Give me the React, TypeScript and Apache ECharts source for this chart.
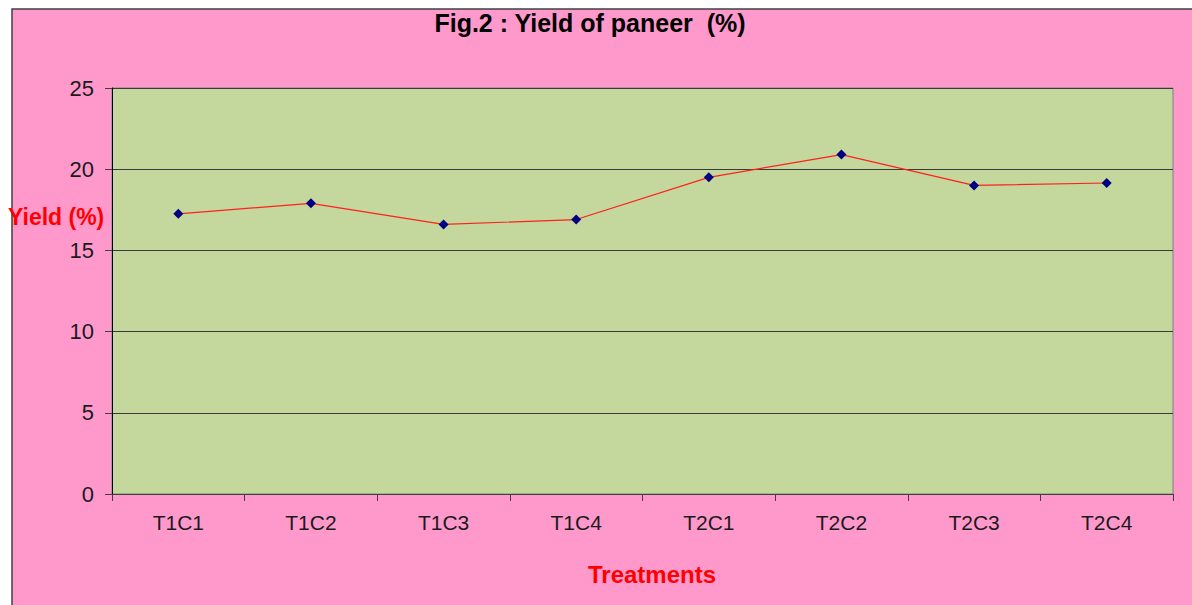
import React, { useEffect, useRef } from "react";
import * as echarts from "echarts";

const categories = ["T1C1", "T1C2", "T1C3", "T1C4", "T2C1", "T2C2", "T2C3", "T2C4"];
const yieldValues = [17.25, 17.9, 16.6, 16.9, 19.5, 20.9, 19.0, 19.15];
const yTicks = { min: 0, max: 25, interval: 5 };

const FONT = "'Liberation Sans', Arial, sans-serif";

export default function App() {
  const ref = useRef<HTMLDivElement>(null);
  useEffect(() => {
    if (!ref.current) return;
    const chart = echarts.init(ref.current, undefined, { renderer: "svg" });
    chart.setOption({
      animation: false,
      backgroundColor: "#ffffff",
      textStyle: { fontFamily: FONT },
      graphic: [
        {
          type: "rect",
          z: -10,
          shape: { x: 12, y: 9, width: 1200, height: 620 },
          style: { fill: "#FF99CC", stroke: "#404040", lineWidth: 1.5 },
        },
        {
          type: "rect",
          z: -5,
          shape: { x: 112, y: 88, width: 1061, height: 406 },
          style: { fill: "#C4D79C", stroke: "#808080", lineWidth: 1 },
        },
        {
          type: "text",
          x: 590,
          y: 23,
          style: {
            text: "Fig.2 : Yield of paneer  (%)",
            fill: "#000000",
            fontFamily: FONT,
            fontWeight: "bold",
            fontSize: 25,
            textAlign: "center",
            textVerticalAlign: "middle",
          },
        },
        {
          type: "text",
          x: 8,
          y: 217,
          style: {
            text: "Yield (%)",
            fill: "#FF0000",
            fontFamily: FONT,
            fontWeight: "bold",
            fontSize: 23,
            textAlign: "left",
            textVerticalAlign: "middle",
          },
        },
        {
          type: "text",
          x: 652,
          y: 574,
          style: {
            text: "Treatments",
            fill: "#FF0000",
            fontFamily: FONT,
            fontWeight: "bold",
            fontSize: 24,
            textAlign: "center",
            textVerticalAlign: "middle",
          },
        },
      ],
      grid: { left: 112, top: 88, right: 19, bottom: 111, containLabel: false },
      xAxis: {
        type: "category",
        data: categories,
        boundaryGap: true,
        axisLine: { show: true, lineStyle: { color: "#404040", width: 1 } },
        axisTick: { show: true, length: 7, alignWithLabel: false, lineStyle: { color: "#404040" } },
        axisLabel: { color: "#1a1a1a", fontSize: 21, margin: 18, fontFamily: FONT },
        splitLine: { show: false },
      },
      yAxis: {
        type: "value",
        min: yTicks.min,
        max: yTicks.max,
        interval: yTicks.interval,
        axisLine: { show: true, lineStyle: { color: "#000000", width: 1 } },
        axisTick: { show: true, length: 7, lineStyle: { color: "#404040" } },
        axisLabel: { color: "#1a1a1a", fontSize: 22, margin: 18, fontFamily: FONT },
        splitLine: { show: true, lineStyle: { color: "#3a3a3a", width: 1.2 } },
      },
      series: [
        {
          type: "line",
          data: yieldValues,
          symbol: "diamond",
          symbolSize: 10,
          itemStyle: { color: "#000080" },
          lineStyle: { color: "#FF2020", width: 1.2 },
        },
      ],
    });
    return () => chart.dispose();
  }, []);
  return (
    <div
      ref={ref}
      style={{ width: 1192, height: 605, position: "absolute", left: 0, top: 0 }}
    />
  );
}
